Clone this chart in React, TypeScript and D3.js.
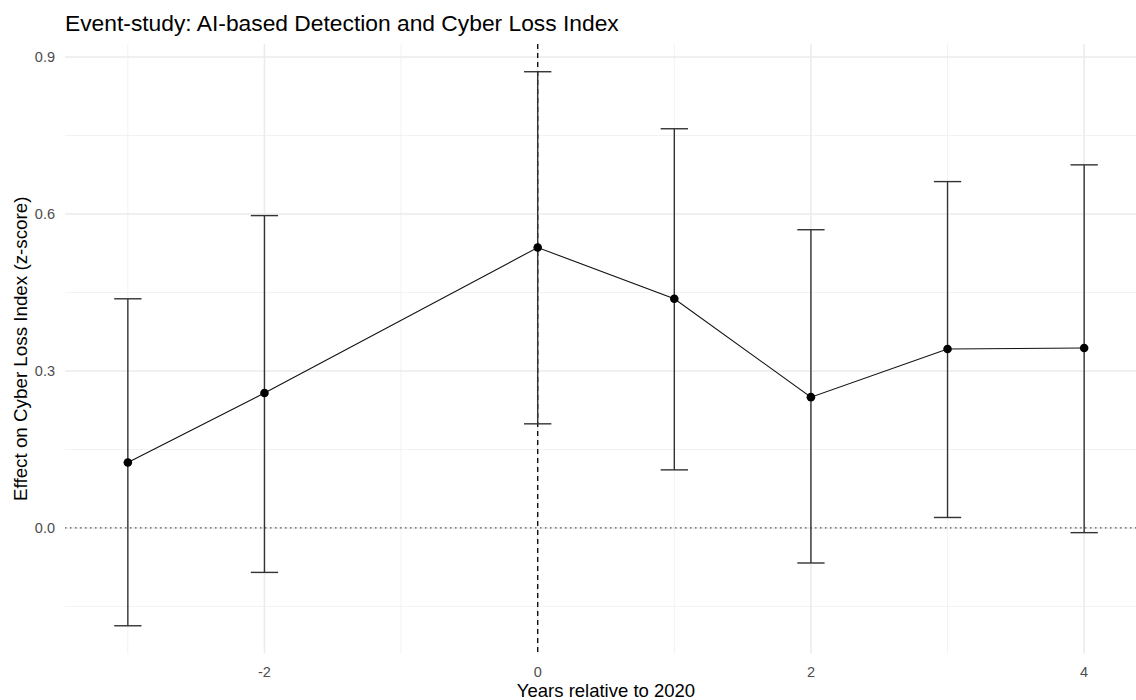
import React, { useEffect, useRef } from 'react';
import * as d3 from 'd3';

// Event-study estimates (years relative to 2020)
const years = [-3, -2, 0, 1, 2, 3, 4];
const estimates = [0.125, 0.258, 0.536, 0.438, 0.25, 0.342, 0.344];
const ciLow = [-0.187, -0.085, 0.199, 0.111, -0.067, 0.02, -0.009];
const ciHigh = [0.438, 0.597, 0.872, 0.763, 0.57, 0.662, 0.694];

const xMajor = [-2, 0, 2, 4];
const xMinor = [-3, -1, 1, 3];
const yMajor = [0, 0.3, 0.6, 0.9];
const yMinor = [-0.15, 0.15, 0.45, 0.75];

const W = 1136;
const H = 700;
const FONT = '"Liberation Sans", Arial, sans-serif';

export default function App() {
  const svgRef = useRef<SVGSVGElement>(null);

  useEffect(() => {
    const svg = d3.select(svgRef.current);
    svg.selectAll('*').remove();

    const rows = years.map((x, i) => ({ x, est: estimates[i], lo: ciLow[i], hi: ciHigh[i] }));

    const panel = { left: 65, right: 1147, top: 44, bottom: 653.5 };
    const capW = 0.2;

    const xScale = d3.scaleLinear().domain([-3.46, 4.46]).range([panel.left, panel.right]);
    const yScale = d3.scaleLinear().domain([-0.24, 0.925]).range([panel.bottom, panel.top]);

    const g = svg.append('g');

    // minor grid
    g.selectAll('.xminor').data(xMinor).enter().append('line')
      .attr('x1', d => xScale(d)).attr('x2', d => xScale(d))
      .attr('y1', panel.top).attr('y2', panel.bottom)
      .attr('stroke', '#f2f2f2').attr('stroke-width', 1);
    g.selectAll('.yminor').data(yMinor).enter().append('line')
      .attr('y1', d => yScale(d)).attr('y2', d => yScale(d))
      .attr('x1', panel.left).attr('x2', panel.right)
      .attr('stroke', '#f2f2f2').attr('stroke-width', 1);

    // major grid
    g.selectAll('.xmajor').data(xMajor).enter().append('line')
      .attr('x1', d => xScale(d)).attr('x2', d => xScale(d))
      .attr('y1', panel.top).attr('y2', panel.bottom)
      .attr('stroke', '#ebebeb').attr('stroke-width', 1.5);
    g.selectAll('.ymajor').data(yMajor).enter().append('line')
      .attr('y1', d => yScale(d)).attr('y2', d => yScale(d))
      .attr('x1', panel.left).attr('x2', panel.right)
      .attr('stroke', '#ebebeb').attr('stroke-width', 1.5);

    // reference lines
    g.append('line')
      .attr('x1', panel.left).attr('x2', panel.right)
      .attr('y1', yScale(0)).attr('y2', yScale(0))
      .attr('stroke', '#555').attr('stroke-width', 1.3)
      .attr('stroke-dasharray', '1.5,3.5');
    g.append('line')
      .attr('x1', xScale(0)).attr('x2', xScale(0))
      .attr('y1', panel.top).attr('y2', panel.bottom)
      .attr('stroke', '#111').attr('stroke-width', 1.4)
      .attr('stroke-dasharray', '5,4');

    // error bars
    const eb = g.append('g').attr('stroke', '#333').attr('stroke-width', 1.4);
    eb.selectAll('.stem').data(rows).enter().append('line')
      .attr('x1', d => xScale(d.x)).attr('x2', d => xScale(d.x))
      .attr('y1', d => yScale(d.hi)).attr('y2', d => yScale(d.lo));
    eb.selectAll('.capTop').data(rows).enter().append('line')
      .attr('x1', d => xScale(d.x - capW / 2)).attr('x2', d => xScale(d.x + capW / 2))
      .attr('y1', d => yScale(d.hi)).attr('y2', d => yScale(d.hi));
    eb.selectAll('.capBot').data(rows).enter().append('line')
      .attr('x1', d => xScale(d.x - capW / 2)).attr('x2', d => xScale(d.x + capW / 2))
      .attr('y1', d => yScale(d.lo)).attr('y2', d => yScale(d.lo));

    // estimate line + points
    const line = d3.line<typeof rows[0]>().x(d => xScale(d.x)).y(d => yScale(d.est));
    g.append('path').datum(rows)
      .attr('fill', 'none').attr('stroke', '#111').attr('stroke-width', 1.1)
      .attr('d', line);
    g.selectAll('.pt').data(rows).enter().append('circle')
      .attr('cx', d => xScale(d.x)).attr('cy', d => yScale(d.est))
      .attr('r', 4.3).attr('fill', '#000');

    // tick labels
    g.selectAll('.ytick').data(yMajor).enter().append('text')
      .attr('x', 55).attr('y', d => yScale(d)).attr('dy', '0.35em')
      .attr('text-anchor', 'end').attr('fill', '#4d4d4d')
      .style('font-family', FONT).style('font-size', '14.5px')
      .text(d => d3.format('.1f')(d));
    g.selectAll('.xtick').data(xMajor).enter().append('text')
      .attr('x', d => xScale(d)).attr('y', 677)
      .attr('text-anchor', 'middle').attr('fill', '#4d4d4d')
      .style('font-family', FONT).style('font-size', '14.5px')
      .text(d => String(d));

    // titles
    svg.append('text')
      .attr('x', 65).attr('y', 31)
      .style('font-family', FONT).style('font-size', '22.8px').attr('fill', '#000')
      .text('Event-study: AI-based Detection and Cyber Loss Index');
    svg.append('text')
      .attr('x', (panel.left + panel.right) / 2).attr('y', 697)
      .attr('text-anchor', 'middle')
      .style('font-family', FONT).style('font-size', '18.5px').attr('fill', '#000')
      .text('Years relative to 2020');
    svg.append('text')
      .attr('transform', `translate(27, ${(panel.top + panel.bottom) / 2}) rotate(-90)`)
      .attr('text-anchor', 'middle')
      .style('font-family', FONT).style('font-size', '18.8px').attr('fill', '#000')
      .text('Effect on Cyber Loss Index (z-score)');
  }, []);

  return (
    <div style={{ position: 'absolute', left: 0, top: 0, width: W, height: H, background: '#fff' }}>
      <svg ref={svgRef} width={W} height={H} style={{ display: 'block' }} />
    </div>
  );
}
